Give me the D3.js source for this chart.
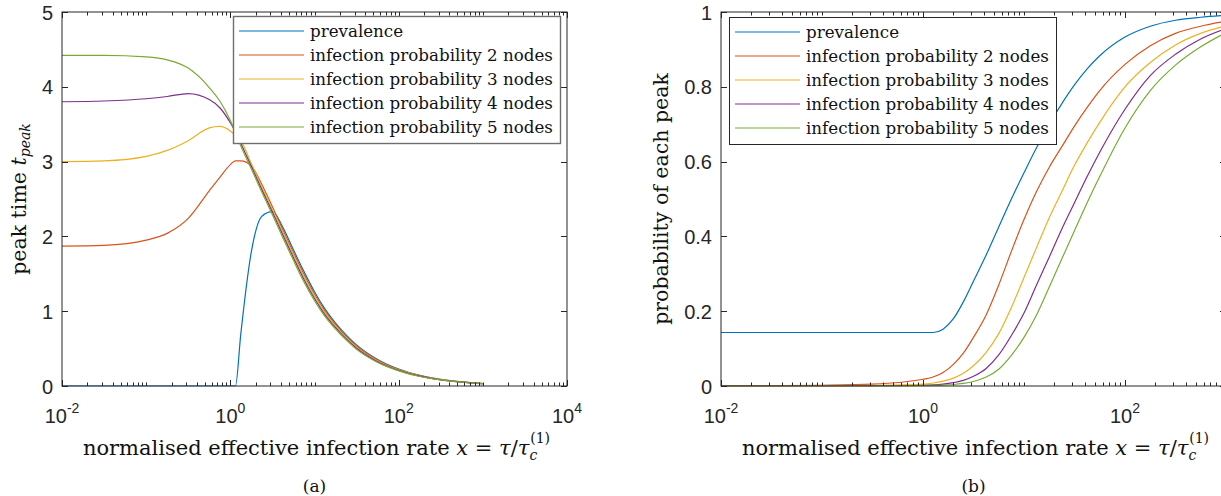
<!DOCTYPE html>
<html>
<head>
<meta charset="utf-8">
<script src="https://cdn.jsdelivr.net/npm/d3@7/dist/d3.min.js"></script>
<style>
  body { margin: 0; background: #fff; }
  svg { display: block; }
</style>
</head>
<body>
<svg id="fig" width="1221" height="496"></svg>
<script>
// series names and MATLAB default line colours
var seriesNames = ['prevalence', 'infection probability 2 nodes', 'infection probability 3 nodes',
  'infection probability 4 nodes', 'infection probability 5 nodes'];
var seriesColors = ['#0072BD', '#D95319', '#EDB120', '#7E2F8E', '#77AC30'];

// panel (a): peak time
var xPeak = [0.01, 0.0316, 0.1, 0.178, 0.316, 0.562, 0.75, 1, 1.15, 1.33, 1.78, 2.37, 3.16,
  4.22, 5.62, 7.5, 10, 13.3, 17.8, 23.7, 31.6, 56.2, 100, 178, 316, 562, 1000];
var peakPrevalence = [0, 0, 0, 0, 0, 0, 0, 0, 0, 0.69, 1.8, 2.27, 2.33,
  2.12, 1.82, 1.53, 1.26, 1.03, 0.84, 0.684, 0.55, 0.355, 0.227, 0.143, 0.089, 0.054, 0.033];
var peakNodes2 = [1.87, 1.88, 1.95, 2.04, 2.24, 2.61, 2.79, 2.96, 3.01, 3.01, 2.94, 2.695, 2.395,
  2.085, 1.785, 1.495, 1.23, 1.005, 0.82, 0.667, 0.535, 0.345, 0.221, 0.139, 0.087, 0.053, 0.032];
var peakNodes3 = [3.0, 3.01, 3.07, 3.15, 3.28, 3.45, 3.47, 3.41, 3.35, 3.28, 2.97, 2.66, 2.36,
  2.05, 1.75, 1.46, 1.20, 0.98, 0.80, 0.65, 0.52, 0.335, 0.215, 0.135, 0.085, 0.052, 0.032];
var peakNodes4 = [3.80, 3.81, 3.84, 3.87, 3.91, 3.83, 3.72, 3.52, 3.40, 3.245, 2.935, 2.625, 2.325,
  2.015, 1.715, 1.425, 1.17, 0.955, 0.78, 0.633, 0.505, 0.325, 0.209, 0.131, 0.083, 0.051, 0.032];
var peakNodes5 = [4.42, 4.42, 4.40, 4.36, 4.25, 3.99, 3.81, 3.55, 3.39, 3.21, 2.90, 2.59, 2.29,
  1.98, 1.68, 1.39, 1.14, 0.93, 0.76, 0.616, 0.49, 0.315, 0.203, 0.127, 0.081, 0.05, 0.031];

// panel (b): probability of each peak
var xProb = [0.01, 0.0316, 0.1, 0.316, 1, 1.26, 1.58, 2.0, 2.51, 3.16, 4.22, 5.62, 7.5,
  10, 13.3, 17.8, 23.7, 31.6, 42.2, 56.2, 100, 178, 316, 562, 1000];
var probPrevalence = [0.143, 0.143, 0.143, 0.143, 0.143, 0.143, 0.152, 0.18, 0.225, 0.28, 0.35, 0.425, 0.50,
  0.57, 0.637, 0.70, 0.755, 0.805, 0.848, 0.883, 0.933, 0.962, 0.978, 0.986, 0.991];
var probNodes2 = [0.0005, 0.001, 0.002, 0.005, 0.018, 0.024, 0.036, 0.058, 0.088, 0.13, 0.19, 0.27, 0.36,
  0.445, 0.52, 0.585, 0.64, 0.695, 0.745, 0.79, 0.86, 0.91, 0.943, 0.962, 0.975];
var probNodes3 = [0, 0, 0.0005, 0.0015, 0.005, 0.008, 0.013, 0.021, 0.034, 0.054, 0.09, 0.14, 0.21,
  0.29, 0.37, 0.45, 0.52, 0.59, 0.65, 0.705, 0.80, 0.865, 0.912, 0.943, 0.963];
var probNodes4 = [0, 0, 0, 0.0005, 0.002, 0.003, 0.005, 0.009, 0.015, 0.026, 0.047, 0.083, 0.135,
  0.195, 0.27, 0.345, 0.42, 0.49, 0.56, 0.625, 0.74, 0.83, 0.887, 0.928, 0.956];
var probNodes5 = [0, 0, 0, 0, 0.001, 0.0015, 0.0025, 0.004, 0.007, 0.012, 0.024, 0.045, 0.082,
  0.13, 0.19, 0.265, 0.34, 0.415, 0.49, 0.56, 0.69, 0.79, 0.858, 0.907, 0.945];

var peakTicks = [0, 1, 2, 3, 4, 5];
var probTicks = [0, 0.2, 0.4, 0.6, 0.8, 1];
var probTickLabels = ['0', '0.2', '0.4', '0.6', '0.8', '1'];

var axisColor = '#262626';
var sansFont = '"Liberation Sans", Arial, sans-serif';
var serifFont = '"DejaVu Serif", serif';

var svg = d3.select('#fig');

// draws one MATLAB-style log-x panel
function drawPanel(p) {
  var x = d3.scaleLog().domain(p.xDomain).range([p.left, p.right]);
  var y = d3.scaleLinear().domain(p.yDomain).range([p.bottom, p.top]);
  var g = svg.append('g');

  var clipId = 'clip' + p.id;
  g.append('clipPath').attr('id', clipId)
    .append('rect')
    .attr('x', p.left).attr('y', p.top - 2)
    .attr('width', p.right - p.left).attr('height', p.bottom - p.top + 2.5);

  // curves
  var line = d3.line()
    .x(function (d) { return x(d[0]); })
    .y(function (d) { return y(d[1]); })
    .curve(d3.curveMonotoneX);

  p.series.forEach(function (vals, i) {
    var pts = p.xs.map(function (xv, k) { return [xv, vals[k]]; });
    g.append('path')
      .attr('clip-path', 'url(#' + clipId + ')')
      .attr('d', line(pts))
      .attr('fill', 'none')
      .attr('stroke', seriesColors[i])
      .attr('stroke-width', 1.2);
  });

  // box
  g.append('rect')
    .attr('x', p.left).attr('y', p.top)
    .attr('width', p.right - p.left).attr('height', p.bottom - p.top)
    .attr('fill', 'none').attr('stroke', axisColor).attr('stroke-width', 1);

  // x ticks: major at even decades, minor everywhere else
  x.ticks().forEach(function (t) {
    var lg = Math.round(Math.log10(t) * 1000) / 1000;
    var major = Number.isInteger(lg) && lg % 2 === 0;
    var len = major ? 6 : 3.5;
    var xp = Math.round(x(t)) + 0.5;
    [[p.bottom, -len], [p.top, len]].forEach(function (e) {
      g.append('line')
        .attr('x1', xp).attr('x2', xp)
        .attr('y1', e[0]).attr('y2', e[0] + e[1])
        .attr('stroke', axisColor).attr('stroke-width', 1);
    });
    if (major) {
      var lab = g.append('text')
        .attr('x', x(t)).attr('y', p.bottom + 37)
        .attr('text-anchor', 'middle')
        .attr('font-family', sansFont).attr('font-size', 20)
        .attr('fill', axisColor);
      lab.append('tspan').text('10');
      lab.append('tspan').attr('dy', -10).attr('font-size', 14).text(String(lg));
    }
  });

  // y ticks
  p.yTicks.forEach(function (t, i) {
    var yp = Math.round(y(t)) + 0.5;
    [[p.left, 6], [p.right, -6]].forEach(function (e) {
      g.append('line')
        .attr('x1', e[0]).attr('x2', e[0] + e[1])
        .attr('y1', yp).attr('y2', yp)
        .attr('stroke', axisColor).attr('stroke-width', 1);
    });
    g.append('text')
      .attr('x', p.left - 9).attr('y', y(t) + 7.5)
      .attr('text-anchor', 'end')
      .attr('font-family', sansFont).attr('font-size', 20)
      .attr('fill', axisColor)
      .text(p.yTickLabels[i]);
  });

  // x label: normalised effective infection rate x = tau / tau_c^(1)
  var cx = (p.left + p.right) / 2;
  var xl = g.append('text')
    .attr('x', cx + 2).attr('y', p.bottom + 69)
    .attr('text-anchor', 'middle')
    .attr('font-family', serifFont).attr('font-size', 21)
    .attr('fill', '#111');
  xl.append('tspan').text('normalised effective infection rate ');
  xl.append('tspan').attr('font-style', 'italic').text('x');
  xl.append('tspan').text(' = ');
  xl.append('tspan').attr('font-style', 'italic').text('τ');
  xl.append('tspan').text('/');
  xl.append('tspan').attr('font-style', 'italic').text('τ');
  xl.append('tspan').attr('font-style', 'italic').attr('font-size', 14).attr('dy', 5).text('c');
  xl.append('tspan').attr('font-size', 14).attr('dx', -7).attr('dy', -17).text('(1)');

  // y label
  var yl = g.append('text')
    .attr('transform', 'translate(' + p.yLabelX + ',' + ((p.top + p.bottom) / 2) + ') rotate(-90)')
    .attr('text-anchor', 'middle')
    .attr('font-family', serifFont).attr('font-size', 20.5)
    .attr('fill', '#111');
  p.yLabel.forEach(function (part) {
    var ts = yl.append('tspan').text(part.text);
    if (part.italic) ts.attr('font-style', 'italic');
    if (part.size) ts.attr('font-size', part.size);
    if (part.dy) ts.attr('dy', part.dy);
  });

  // subfigure caption
  g.append('text')
    .attr('x', cx).attr('y', p.bottom + 106)
    .attr('text-anchor', 'middle')
    .attr('font-family', serifFont).attr('font-size', 17)
    .attr('fill', '#111')
    .text(p.caption);

  // legend
  var L = p.legend;
  var lg = g.append('g');
  lg.append('rect')
    .attr('x', L.x + 0.5).attr('y', L.y + 0.5)
    .attr('width', L.w).attr('height', L.h)
    .attr('fill', '#fff').attr('stroke', L.stroke).attr('stroke-width', L.strokeWidth);
  seriesNames.forEach(function (name, i) {
    var ry = L.y + 15 + i * 24;
    lg.append('line')
      .attr('x1', L.x + 6).attr('x2', L.x + 71)
      .attr('y1', ry).attr('y2', ry)
      .attr('stroke', seriesColors[i]).attr('stroke-width', 1.2);
    lg.append('text')
      .attr('x', L.x + 77).attr('y', ry + 5.5)
      .attr('font-family', serifFont).attr('font-size', 16.7)
      .attr('fill', '#111')
      .text(name);
  });
}

drawPanel({
  id: 'a',
  left: 62, right: 567, top: 12, bottom: 386,
  xDomain: [1e-2, 1e4], yDomain: [0, 5],
  xs: xPeak,
  series: [peakPrevalence, peakNodes2, peakNodes3, peakNodes4, peakNodes5],
  yTicks: peakTicks, yTickLabels: peakTicks.map(String),
  yLabelX: 26,
  yLabel: [{ text: 'peak time ' }, { text: 't', italic: true },
    { text: 'peak', italic: true, size: 14, dy: 4 }],
  caption: '(a)',
  legend: { x: 233, y: 16, w: 327, h: 127, stroke: '#6e6e6e', strokeWidth: 1.4 }
});

drawPanel({
  id: 'b',
  left: 721, right: 1226, top: 12, bottom: 386,
  xDomain: [1e-2, 1e3], yDomain: [0, 1],
  xs: xProb,
  series: [probPrevalence, probNodes2, probNodes3, probNodes4, probNodes5],
  yTicks: probTicks, yTickLabels: probTickLabels,
  yLabelX: 668,
  yLabel: [{ text: 'probability of each peak' }],
  caption: '(b)',
  legend: { x: 729, y: 17, w: 327, h: 127, stroke: '#262626', strokeWidth: 1 }
});
</script>
</body>
</html>
